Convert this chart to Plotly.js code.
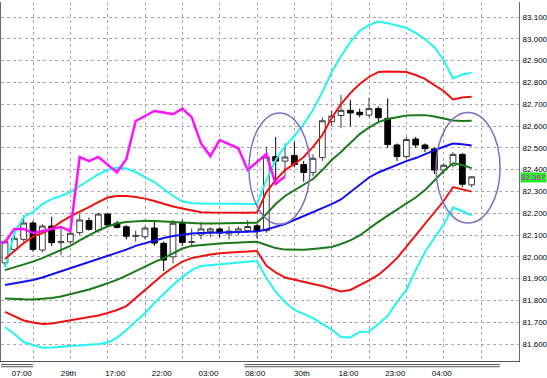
<!DOCTYPE html>
<html><head><meta charset="utf-8">
<script src="https://cdn.plot.ly/plotly-3.0.1.min.js"></script>
<style>html,body{margin:0;padding:0;background:#fff}#chart{width:547px;height:378px}</style>
</head><body><div id="chart"></div>
<script>
// ---- data (hourly candles, index 0..50) ----
const candleOpen  = [81.972,82.034,82.080,82.155,82.031,82.141,82.065,82.069,82.111,82.166,82.120,82.196,82.154,82.138,82.094,82.092,82.132,82.062,82.000,82.154,82.066,82.100,82.115,82.128,82.105,82.112,82.120,82.142,82.120,82.460,82.439,82.465,82.423,82.387,82.455,82.620,82.648,82.672,82.663,82.650,82.680,82.635,82.513,82.460,82.540,82.513,82.495,82.398,82.420,82.470,82.330];
const candleHigh  = [82.080,82.115,82.190,82.165,82.150,82.184,82.132,82.120,82.196,82.180,82.200,82.200,82.165,82.145,82.120,82.140,82.161,82.070,82.170,82.170,82.130,82.160,82.135,82.135,82.140,82.140,82.169,82.150,82.505,82.550,82.520,82.528,82.440,82.470,82.640,82.670,82.742,82.720,82.680,82.730,82.690,82.727,82.520,82.550,82.550,82.520,82.500,82.430,82.480,82.475,82.370];
const candleLow   = [81.960,82.020,82.070,82.023,82.020,82.050,82.008,82.060,82.100,82.120,82.110,82.140,82.130,82.080,82.070,82.080,82.050,81.935,81.970,82.050,82.050,82.080,82.090,82.090,82.080,82.100,82.110,82.085,82.110,82.330,82.370,82.410,82.345,82.370,82.440,82.600,82.590,82.600,82.640,82.640,82.620,82.500,82.440,82.450,82.500,82.480,82.380,82.380,82.410,82.320,82.320];
const candleClose = [82.069,82.085,82.155,82.034,82.141,82.065,82.070,82.108,82.169,82.126,82.196,82.146,82.135,82.094,82.098,82.132,82.063,81.985,82.154,82.066,82.069,82.128,82.128,82.109,82.118,82.128,82.139,82.118,82.458,82.439,82.458,82.423,82.387,82.452,82.624,82.646,82.672,82.660,82.652,82.680,82.638,82.515,82.460,82.538,82.513,82.496,82.398,82.420,82.470,82.333,82.367];

const bandMid    = [81.871,81.878,81.884,81.894,81.905,81.919,81.933,81.946,81.960,81.974,81.990,82.004,82.017,82.033,82.050,82.063,82.075,82.086,82.095,82.102,82.107,82.109,82.111,82.112,82.114,82.114,82.115,82.116,82.125,82.137,82.150,82.169,82.187,82.205,82.224,82.242,82.263,82.297,82.334,82.364,82.387,82.405,82.423,82.439,82.453,82.472,82.488,82.505,82.520,82.516,82.511];
const bandUp1    = [81.939,81.951,81.965,81.978,81.994,82.013,82.031,82.050,82.075,82.098,82.121,82.139,82.153,82.160,82.164,82.166,82.164,82.162,82.157,82.155,82.154,82.153,82.153,82.154,82.155,82.155,82.156,82.156,82.196,82.242,82.279,82.306,82.329,82.357,82.398,82.444,82.481,82.522,82.563,82.593,82.618,82.632,82.641,82.648,82.650,82.650,82.644,82.634,82.625,82.623,82.624];
const bandLow1   = [81.809,81.806,81.805,81.804,81.806,81.811,81.818,81.828,81.839,81.850,81.864,81.878,81.894,81.914,81.935,81.955,81.976,81.994,82.017,82.038,82.050,82.054,82.059,82.061,82.063,82.066,82.068,82.069,82.054,82.040,82.033,82.031,82.032,82.036,82.040,82.045,82.059,82.075,82.098,82.130,82.160,82.189,82.217,82.242,82.272,82.306,82.352,82.394,82.429,82.421,82.407];
const bandUp2    = [81.990,82.027,82.063,82.093,82.109,82.130,82.160,82.185,82.205,82.228,82.251,82.272,82.279,82.279,82.274,82.267,82.256,82.242,82.231,82.222,82.212,82.205,82.203,82.202,82.202,82.202,82.202,82.203,82.297,82.352,82.398,82.426,82.458,82.504,82.559,82.637,82.701,82.751,82.793,82.825,82.848,82.850,82.850,82.848,82.834,82.816,82.788,82.761,82.722,82.731,82.734];
const bandLow2   = [81.747,81.728,81.708,81.699,81.692,81.694,81.701,81.710,81.717,81.724,81.731,81.742,81.756,81.774,81.811,81.848,81.884,81.921,81.951,81.978,81.994,82.004,82.011,82.016,82.020,82.022,82.024,82.027,81.960,81.928,81.905,81.894,81.885,81.875,81.866,81.855,81.841,81.848,81.869,81.892,81.917,81.953,81.994,82.047,82.100,82.150,82.201,82.256,82.320,82.309,82.299];
const bandUp3    = [81.950,82.108,82.183,82.205,82.242,82.265,82.279,82.297,82.325,82.352,82.378,82.398,82.410,82.405,82.389,82.366,82.343,82.311,82.279,82.254,82.247,82.245,82.244,82.244,82.244,82.242,82.242,82.242,82.352,82.444,82.508,82.554,82.609,82.673,82.756,82.848,82.921,82.985,83.036,83.063,83.079,83.072,83.061,83.050,83.027,82.999,82.962,82.903,82.818,82.836,82.845];
const bandLow3   = [81.678,81.646,81.609,81.595,81.583,81.584,81.589,81.591,81.593,81.595,81.600,81.607,81.628,81.664,81.701,81.742,81.788,81.829,81.871,81.907,81.939,81.958,81.962,81.965,81.969,81.974,81.976,81.981,81.903,81.839,81.793,81.756,81.738,81.719,81.692,81.666,81.632,81.630,81.655,81.657,81.692,81.728,81.793,81.848,81.939,82.022,82.086,82.148,82.226,82.210,82.189];

// lagging line (index -1 .. 30)
const lagStart = -1;
const lagLine = [82.068,82.066,82.128,82.128,82.109,82.118,82.128,82.137,82.118,82.458,82.439,82.458,82.423,82.387,82.449,82.623,82.646,82.669,82.662,82.654,82.680,82.641,82.520,82.462,82.536,82.517,82.498,82.398,82.435,82.472,82.334,82.368];

const tickCandles = [1,6,11,16,21,26,31,36,41,46];
const tickLabels  = ["07:00","29th","17:00","22:00","03:00","08:00","30th","18:00","23:00","04:00"];

// highlighted zones: [idxFrom, idxTo, priceLow, priceHigh]
const zones = [[26.14,32.68,82.150,82.660],[46.18,53.04,82.155,82.662]];

// ---- build ----
const idx = candleOpen.map((_, i) => i);
const lagIdx = lagLine.map((_, i) => i + lagStart);
const xr = [-0.43, 55.07];
const gridC = '#a8a4b4';
const fnt = '"Liberation Sans", Arial, sans-serif';

function line(y, color, w) {
  return {type:'scatter', mode:'lines', x: idx, y: y, xaxis:'x', yaxis:'y',
    line:{color:color, width:w}, hoverinfo:'skip', showlegend:false};
}
const traces = [
  {type:'candlestick', x: idx, open: candleOpen, high: candleHigh, low: candleLow, close: candleClose,
   xaxis:'x', yaxis:'y', whiskerwidth:0,
   increasing:{line:{color:'#3a3a3a', width:1}, fillcolor:'#ffffff'},
   decreasing:{line:{color:'#000000', width:1}, fillcolor:'#000000'},
   hoverinfo:'skip', showlegend:false},
  line(bandLow3, '#22f4f4', 2),
  line(bandUp3, '#22f4f4', 2),
  line(bandLow2, '#f01010', 2),
  line(bandUp2, '#f01010', 2),
  line(bandLow1, '#1a7a1a', 2),
  line(bandUp1, '#1a7a1a', 2),
  line(bandMid, '#1010f0', 2),
  {type:'scatter', mode:'lines', x: lagIdx, y: lagLine, xaxis:'x2', yaxis:'y',
   line:{color:'#ff10ff', width:2.5}, hoverinfo:'skip', showlegend:false}
];

const shapes = zones.map(z => ({type:'circle', xref:'x', yref:'y', x0:z[0], x1:z[1], y0:z[2], y1:z[3],
  line:{color:'#7d70c0', width:1.5}, layer:'above'}));
// decorative separator lines under the time axis
[[0,0.062],[0.47,0.963]].forEach(s => {
  [-0.010,-0.016].forEach(yy => shapes.push({type:'line', xref:'paper', yref:'paper', x0:s[0], x1:s[1], y0:yy, y1:yy,
    line:{color:'#555', width:1}}));
});

const lastClose = candleClose[candleClose.length - 1];
const layout = {
  width:547, height:378,
  margin:{l:1, r:28, t:2, b:17, pad:0},
  paper_bgcolor:'#ffffff', plot_bgcolor:'#ffffff',
  showlegend:false,
  boxgap:0.12,
  xaxis:{range:xr, tick0:3, dtick:4, showgrid:true, gridcolor:gridC, griddash:'dot', gridwidth:1,
    showticklabels:false, ticks:'', zeroline:false, showline:true, linecolor:'#555', linewidth:1,
    rangeslider:{visible:false}, fixedrange:true},
  xaxis2:{range:xr, overlaying:'x', anchor:'y', side:'bottom', tickmode:'array',
    tickvals: tickCandles.map(k => k + 0.8), ticktext: tickLabels, showgrid:false, zeroline:false,
    ticks:'', ticklabelstandoff:6, tickfont:{family:fnt, size:8, color:'#000'}, showline:false},
  yaxis:{range:[81.522, 83.169], tick0:81.6, dtick:0.1, tickformat:'.3f', side:'right',
    showgrid:true, gridcolor:gridC, griddash:'dot', gridwidth:1, zeroline:false, ticks:'',
    ticklabelstandoff:1,
    showline:true, mirror:true, linecolor:'#6a6a80', linewidth:1,
    tickfont:{family:fnt, size:8, color:'#000'}},
  shapes: shapes,
  annotations:[{xref:'paper', yref:'y', x:1, y:lastClose, xanchor:'left', yanchor:'middle', xshift:1, yshift:-1,
    text: lastClose.toFixed(3), showarrow:false, bgcolor:'#22ee22', borderpad:0,
    font:{family:fnt, size:8, color:'#d010d0'}}]
};
Plotly.newPlot('chart', traces, layout, {staticPlot:true, displayModeBar:false});
</script></body></html>
